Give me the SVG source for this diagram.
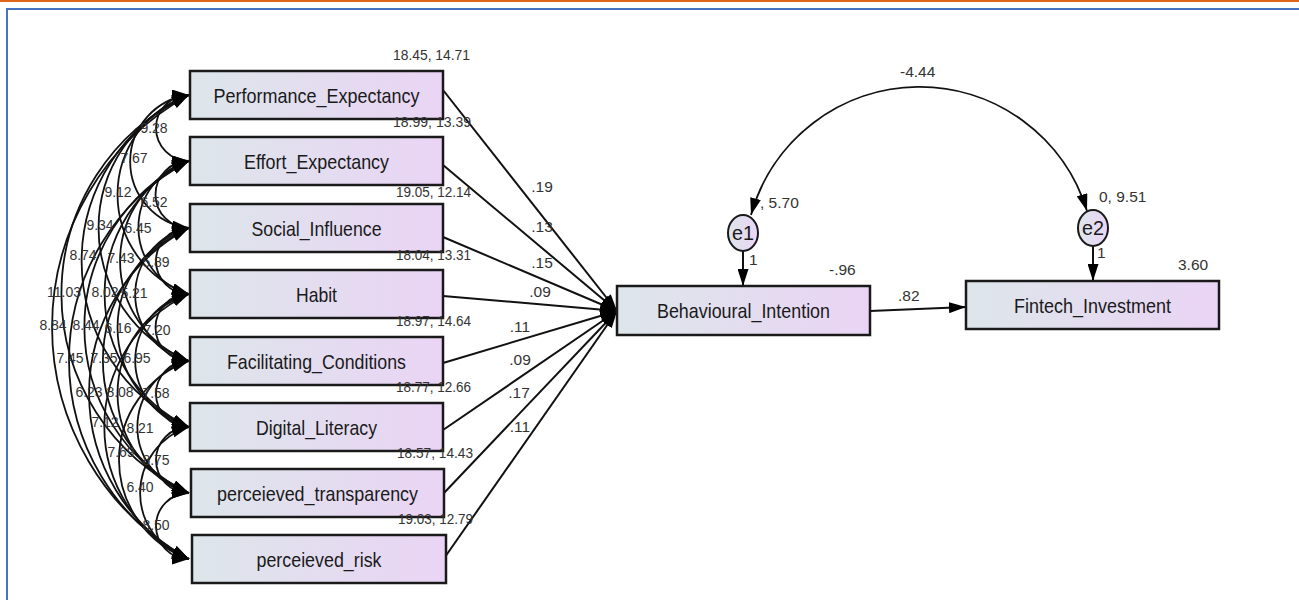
<svg xmlns="http://www.w3.org/2000/svg" width="1299" height="600" viewBox="0 0 1299 600">
<style>
.box{stroke:#1a1a1a;stroke-width:2.5;fill:url(#g)}
.lbl{font-family:"Liberation Sans",Arial,sans-serif;font-size:21px;fill:#1a1a1a;text-anchor:middle}
.num{font-family:"Liberation Sans",Arial,sans-serif;font-size:14px;fill:#333}
.big{font-size:15.5px}
.mid{text-anchor:middle}
.cov{fill:none;stroke:#111;stroke-width:1.8;marker-start:url(#arr);marker-end:url(#arr)}
.reg{fill:none;stroke:#111;stroke-width:2;marker-end:url(#arr)}
</style>
<defs>
<linearGradient id="g" x1="0" y1="0" x2="1" y2="0">
<stop offset="0" stop-color="#dde6ea"/>
<stop offset="1" stop-color="#ead4f5"/>
</linearGradient>
<marker id="arr" markerUnits="userSpaceOnUse" markerWidth="17" markerHeight="11" refX="17" refY="5.5" orient="auto-start-reverse" viewBox="0 0 17 11">
<path d="M0,0 L17,5.5 L0,11 z" fill="#000"/>
</marker>
</defs>
<rect width="1299" height="600" fill="#fff"/>
<rect x="0" y="0" width="1299" height="2" fill="#e0661c"/>
<path d="M7,600 V9 H1299" fill="none" stroke="#4472c4" stroke-width="2"/>

<g id="connectors">
<path class="cov" d="M189,95 A33,33 0 0 0 189,161"/>
<path class="cov" d="M189,95 A67,67 0 0 0 189,228"/>
<path class="cov" d="M189,95 A105,105 0 0 0 189,294"/>
<path class="cov" d="M189,161 A33,33 0 0 0 189,228"/>
<path class="cov" d="M189,95 A143,143 0 0 0 189,361"/>
<path class="cov" d="M189,161 A69,69 0 0 0 189,294"/>
<path class="cov" d="M189,95 A182,182 0 0 0 189,427"/>
<path class="cov" d="M189,161 A107,107 0 0 0 189,361"/>
<path class="cov" d="M189,228 A33,33 0 0 0 189,294"/>
<path class="cov" d="M189,95 A219,219 0 0 0 189,493"/>
<path class="cov" d="M189,161 A147,147 0 0 0 189,427"/>
<path class="cov" d="M189,228 A68,68 0 0 0 189,361"/>
<path class="cov" d="M189,95 A265,265 0 0 0 189,559"/>
<path class="cov" d="M189,161 A184,184 0 0 0 189,493"/>
<path class="cov" d="M189,228 A105,105 0 0 0 189,427"/>
<path class="cov" d="M189,294 A33,33 0 0 0 189,361"/>
<path class="cov" d="M189,161 A225,225 0 0 0 189,559"/>
<path class="cov" d="M189,228 A145,145 0 0 0 189,493"/>
<path class="cov" d="M189,294 A68,68 0 0 0 189,427"/>
<path class="cov" d="M189,228 A187,187 0 0 0 189,559"/>
<path class="cov" d="M189,294 A105,105 0 0 0 189,493"/>
<path class="cov" d="M189,361 A33,33 0 0 0 189,427"/>
<path class="cov" d="M189,294 A146,146 0 0 0 189,559"/>
<path class="cov" d="M189,361 A68,68 0 0 0 189,493"/>
<path class="cov" d="M189,361 A105,105 0 0 0 189,559"/>
<path class="cov" d="M189,427 A33,33 0 0 0 189,493"/>
<path class="cov" d="M189,427 A69,69 0 0 0 189,559"/>
<path class="cov" d="M189,493 A33,33 0 0 0 189,559"/>

<path class="reg" d="M443,90 L617,311"/>
<path class="reg" d="M443,165 L617,311"/>
<path class="reg" d="M443,237 L617,311"/>
<path class="reg" d="M443,296 L617,311"/>
<path class="reg" d="M443,363 L617,311"/>
<path class="reg" d="M443,430 L617,311"/>
<path class="reg" d="M444,493 L617,311"/>
<path class="reg" d="M445,557 L617,311"/>

<path class="reg" d="M870,311 L966,307"/>
<path class="reg" d="M743,251 L743,286"/>
<path class="reg" d="M1093,246 L1093,281"/>
<path class="cov" d="M751,215 A175,175 0 0 1 1087,211"/>
</g>

<g id="cov-labels">
<text class="num mid" x="154" y="133">9.28</text>
<text class="num mid" x="134" y="163">7.67</text>
<text class="num mid" x="118" y="197">9.12</text>
<text class="num mid" x="154" y="207">6.52</text>
<text class="num mid" x="100" y="230">9.34</text>
<text class="num mid" x="138" y="233">6.45</text>
<text class="num mid" x="83" y="260">8.74</text>
<text class="num mid" x="121" y="263">7.43</text>
<text class="num mid" x="156" y="267">5.89</text>
<text class="num mid" x="64" y="297">11.03</text>
<text class="num mid" x="105" y="297">8.02</text>
<text class="num mid" x="134" y="298">5.21</text>
<text class="num mid" x="53" y="330">8.84</text>
<text class="num mid" x="86" y="330">8.44</text>
<text class="num mid" x="118" y="333">6.16</text>
<text class="num mid" x="157" y="335">7.20</text>
<text class="num mid" x="70" y="363">7.45</text>
<text class="num mid" x="104" y="363">7.35</text>
<text class="num mid" x="137" y="363">6.95</text>
<text class="num mid" x="89" y="397">6.23</text>
<text class="num mid" x="120" y="397">8.08</text>
<text class="num mid" x="156" y="398">7.58</text>
<text class="num mid" x="105" y="427">7.12</text>
<text class="num mid" x="140" y="433">8.21</text>
<text class="num mid" x="121" y="457">7.69</text>
<text class="num mid" x="156" y="465">8.75</text>
<text class="num mid" x="140" y="492">6.40</text>
<text class="num mid" x="156" y="530">8.50</text>
</g>

<g id="n-pe"><rect class="box" x="190" y="71" width="253" height="48"/><text class="lbl" x="316.5" y="103" textLength="206" lengthAdjust="spacingAndGlyphs">Performance_Expectancy</text></g>
<g id="n-ee"><rect class="box" x="190" y="137" width="253" height="48"/><text class="lbl" x="316.5" y="169" textLength="145" lengthAdjust="spacingAndGlyphs">Effort_Expectancy</text></g>
<g id="n-si"><rect class="box" x="190" y="204" width="253" height="48"/><text class="lbl" x="316.5" y="236" textLength="130" lengthAdjust="spacingAndGlyphs">Social_Influence</text></g>
<g id="n-hb"><rect class="box" x="190" y="270" width="253" height="48"/><text class="lbl" x="316.5" y="302" textLength="41" lengthAdjust="spacingAndGlyphs">Habit</text></g>
<g id="n-fc"><rect class="box" x="190" y="337" width="253" height="48"/><text class="lbl" x="316.5" y="369" textLength="179" lengthAdjust="spacingAndGlyphs">Facilitating_Conditions</text></g>
<g id="n-dl"><rect class="box" x="190" y="403" width="253" height="48"/><text class="lbl" x="316.5" y="435" textLength="121" lengthAdjust="spacingAndGlyphs">Digital_Literacy</text></g>
<g id="n-pt"><rect class="box" x="191" y="469" width="253" height="48"/><text class="lbl" x="317.5" y="501" textLength="201" lengthAdjust="spacingAndGlyphs">perceieved_transparency</text></g>
<g id="n-pr"><rect class="box" x="192" y="535" width="254" height="48"/><text class="lbl" x="319" y="567" textLength="125" lengthAdjust="spacingAndGlyphs">perceieved_risk</text></g>
<g id="n-bi"><rect class="box" x="617" y="286" width="253" height="49"/><text class="lbl" x="743.5" y="318" textLength="173" lengthAdjust="spacingAndGlyphs">Behavioural_Intention</text></g>
<g id="n-fi"><rect class="box" x="966" y="281" width="253" height="48"/><text class="lbl" x="1092.5" y="313" textLength="157" lengthAdjust="spacingAndGlyphs">Fintech_Investment</text></g>
<g id="n-e1"><ellipse cx="743" cy="233" rx="15" ry="18" fill="url(#g)" stroke="#1a1a1a" stroke-width="2"/><text class="lbl" x="743" y="240" textLength="22" lengthAdjust="spacingAndGlyphs">e1</text></g>
<g id="n-e2"><ellipse cx="1093" cy="228" rx="15" ry="18" fill="url(#g)" stroke="#1a1a1a" stroke-width="2"/><text class="lbl" x="1093" y="235" textLength="22" lengthAdjust="spacingAndGlyphs">e2</text></g>

<g id="labels">
<text class="num big" x="393" y="60" textLength="77" lengthAdjust="spacingAndGlyphs">18.45, 14.71</text>
<text class="num big" x="393" y="127" textLength="78" lengthAdjust="spacingAndGlyphs">18.99, 13.39</text>
<text class="num big" x="396" y="197" textLength="75" lengthAdjust="spacingAndGlyphs">19.05, 12.14</text>
<text class="num big" x="396" y="260" textLength="75" lengthAdjust="spacingAndGlyphs">18.04, 13.31</text>
<text class="num big" x="396" y="326" textLength="75" lengthAdjust="spacingAndGlyphs">18.97, 14.64</text>
<text class="num big" x="396" y="392" textLength="75" lengthAdjust="spacingAndGlyphs">18.77, 12.66</text>
<text class="num big" x="397" y="458" textLength="76" lengthAdjust="spacingAndGlyphs">18.57, 14.43</text>
<text class="num big" x="398" y="524" textLength="75" lengthAdjust="spacingAndGlyphs">19.03, 12.79</text>
<text class="num big mid" x="542" y="192">.19</text>
<text class="num big mid" x="542" y="232">.13</text>
<text class="num big mid" x="542" y="268">.15</text>
<text class="num big mid" x="540" y="297">.09</text>
<text class="num big mid" x="520" y="332">.11</text>
<text class="num big mid" x="520" y="365">.09</text>
<text class="num big mid" x="519" y="398">.17</text>
<text class="num big mid" x="520" y="432">.11</text>
<text class="num big" x="900" y="77">-4.44</text>
<text class="num big" x="760" y="208">, 5.70</text>
<text class="num big" x="1099" y="202">0, 9.51</text>
<text class="num big" x="749" y="265">1</text>
<text class="num big" x="1097" y="258">1</text>
<text class="num big" x="829" y="275">-.96</text>
<text class="num big" x="1178" y="270">3.60</text>
<text class="num big" x="898" y="301">.82</text>
</g>
</svg>
